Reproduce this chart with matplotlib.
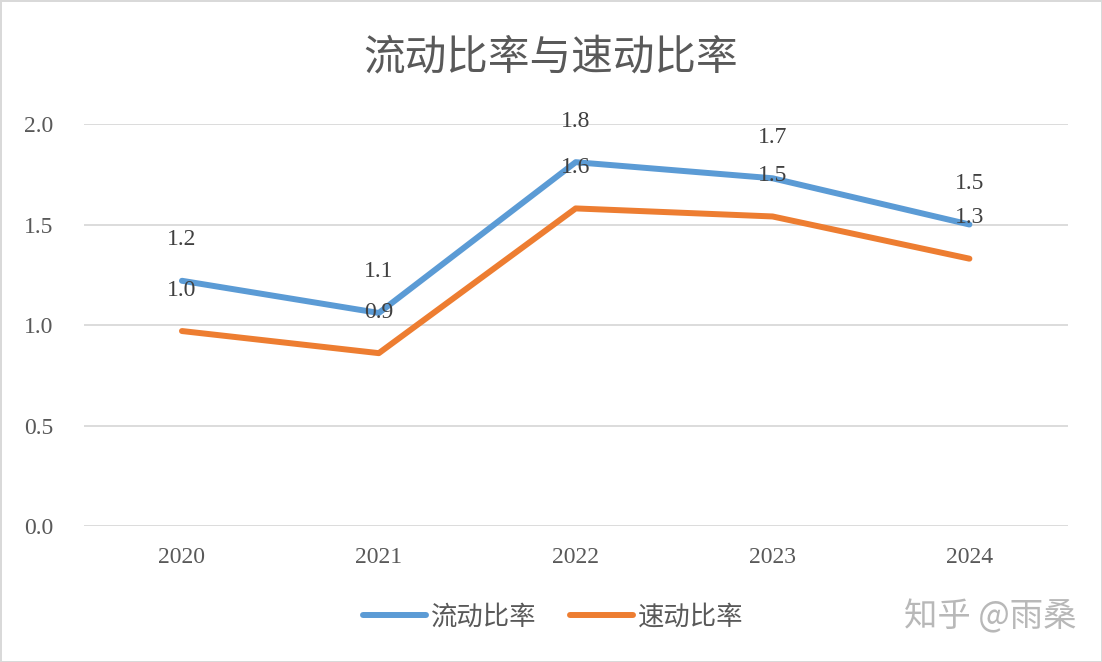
import matplotlib.pyplot as plt

plt.rcParams['font.family'] = ['Liberation Serif', 'Noto Sans CJK SC', 'DejaVu Sans']

years = ['2020', '2021', '2022', '2023', '2024']
current_ratio = [1.22, 1.06, 1.81, 1.73, 1.50]
quick_ratio = [0.97, 0.86, 1.58, 1.54, 1.33]
yticks = [0.0, 0.5, 1.0, 1.5, 2.0]

blue = '#5B9BD5'
orange = '#ED7D31'
text_gray = '#595959'

fig = plt.figure(figsize=(11.02, 6.62), dpi=100)
fig.patch.set_edgecolor('#d9d9d9')
fig.patch.set_linewidth(2)
ax = fig.add_axes([0.0758, 0.2054, 0.8932, 0.6073])

x = list(range(len(years)))
ax.plot(x, current_ratio, color=blue, lw=4.3, solid_capstyle='round', label='流动比率')
ax.plot(x, quick_ratio, color=orange, lw=4.3, solid_capstyle='round', label='速动比率')

# data labels above each point
for xi, v in zip(x, current_ratio):
    ax.annotate(f'{v:.1f}', (xi, v), xytext=(0, 29.5), textcoords='offset points',
                ha='center', va='center', fontsize=17, color='#404040', zorder=5)
for xi, v in zip(x, quick_ratio):
    ax.annotate(f'{v:.1f}', (xi, v), xytext=(0, 29.5), textcoords='offset points',
                ha='center', va='center', fontsize=17, color='#404040', zorder=5)

ax.set_xlim(-0.5, len(years) - 0.5)
ax.set_ylim(0, 2.0)
ax.set_xticks(x)
ax.set_xticklabels(years)
ax.set_yticks(yticks)
ax.set_yticklabels([f'{t:.1f}' for t in yticks])
ax.tick_params(axis='both', length=0, labelsize=17, labelcolor=text_gray)
ax.tick_params(axis='y', pad=22)
ax.tick_params(axis='x', pad=15)
ax.grid(axis='y', color='#d9d9d9', lw=1.3)
ax.set_axisbelow(True)
for s in ax.spines.values():
    s.set_visible(False)

fig.text(0.5, 0.912, '流动比率与速动比率', ha='center', va='center',
         fontsize=30, color=text_gray, family=['Noto Sans CJK SC'])

leg = fig.legend(loc='center', bbox_to_anchor=(0.502, 0.068), ncol=2, frameon=False,
                 prop={'family': 'Noto Sans CJK SC', 'size': 19},
                 handlelength=2.4, handletextpad=0.18, columnspacing=1.25)
for t in leg.get_texts():
    t.set_color(text_gray)

fig.text(0.899, 0.068, '知乎 @雨桑', ha='center', va='center', fontsize=24,
         color='#b8b8b8', family=['Noto Sans CJK SC'])

fig.savefig('out.png', dpi=100, edgecolor=fig.get_edgecolor())
